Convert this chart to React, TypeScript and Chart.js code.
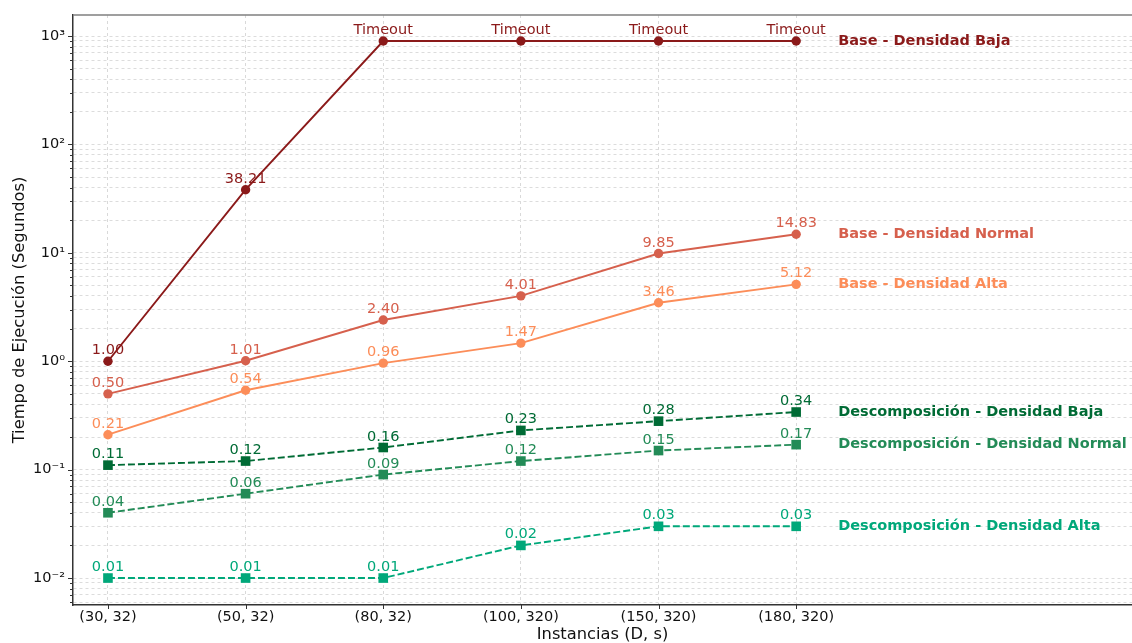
import React, { useEffect, useRef } from 'react';
import { Chart, registerables } from 'chart.js';
Chart.register(...registerables);

const categories = ['(30, 32)', '(50, 32)', '(80, 32)', '(100, 320)', '(150, 320)', '(180, 320)'];
const TIMEOUT = 900;
const baseBaja = [1.0, 38.21, TIMEOUT, TIMEOUT, TIMEOUT, TIMEOUT];
const baseNormal = [0.5, 1.01, 2.4, 4.01, 9.85, 14.83];
const baseAlta = [0.21, 0.54, 0.96, 1.47, 3.46, 5.12];
const descBaja = [0.11, 0.12, 0.16, 0.23, 0.28, 0.34];
const descNormal = [0.04, 0.06, 0.09, 0.12, 0.15, 0.17];
const descAlta = [0.01, 0.01, 0.01, 0.02, 0.03, 0.03];
const yExponents = [-2, -1, 0, 1, 2, 3];
const yTickLabels = ['10⁻²', '10⁻¹', '10⁰', '10¹', '10²', '10³'];

const seriesNames = [
  'Base - Densidad Baja',
  'Base - Densidad Normal',
  'Base - Densidad Alta',
  'Descomposición - Densidad Baja',
  'Descomposición - Densidad Normal',
  'Descomposición - Densidad Alta',
];
const seriesValues = [baseBaja, baseNormal, baseAlta, descBaja, descNormal, descAlta];
const seriesColors = ['#8b1a1a', '#d6604d', '#fc8d59', '#006b35', '#238b57', '#00a87a'];
const seriesDashed = [false, false, false, true, true, true];

const FONT = "'DejaVu Sans', sans-serif";
const Y_MIN = 0.00564;
const Y_MAX = 1563;

function fmt(v: number) {
  return v >= TIMEOUT ? 'Timeout' : v.toFixed(2);
}

const zeroPad = () => ({ left: 0, top: 0, right: 0, bottom: 0 });

const annotate = {
  id: 'annotate',
  afterDatasetsDraw(chart: any) {
    const ctx = chart.ctx;
    ctx.save();
    chart.data.datasets.forEach((ds: any, di: number) => {
      const meta = chart.getDatasetMeta(di);
      ctx.fillStyle = seriesColors[di];
      ctx.font = `14.5px ${FONT}`;
      ctx.textAlign = 'center';
      ctx.textBaseline = 'alphabetic';
      meta.data.forEach((pt: any, i: number) => {
        ctx.fillText(fmt(seriesValues[di][i]), pt.x, pt.y - 7);
      });
      const last = meta.data[meta.data.length - 1];
      ctx.font = `bold 14.5px ${FONT}`;
      ctx.textAlign = 'left';
      ctx.textBaseline = 'middle';
      ctx.fillText(seriesNames[di], last.x + 42, last.y);
    });
    ctx.restore();
  },
  afterDraw(chart: any) {
    const ctx = chart.ctx;
    const a = chart.chartArea;
    ctx.save();
    ctx.strokeStyle = '#7f7f7f';
    ctx.lineWidth = 1.5;
    ctx.beginPath();
    ctx.moveTo(a.left, a.top);
    ctx.lineTo(a.right, a.top);
    ctx.stroke();
    ctx.strokeStyle = '#333';
    ctx.lineWidth = 1;
    const ys = chart.scales.y;
    ys.ticks.forEach((t: any) => {
      const p = Math.round(ys.getPixelForValue(t.value)) + 0.5;
      const major = Math.abs(Math.log10(t.value) - Math.round(Math.log10(t.value))) < 1e-6;
      const len = major ? 5 : 3;
      ctx.beginPath();
      ctx.moveTo(a.left - len, p);
      ctx.lineTo(a.left, p);
      ctx.stroke();
    });
    const xs = chart.scales.x;
    categories.forEach((_, i) => {
      const p = Math.round(xs.getPixelForValue(i)) + 0.5;
      ctx.beginPath();
      ctx.moveTo(p, a.bottom);
      ctx.lineTo(p, a.bottom + 4);
      ctx.stroke();
    });
    ctx.restore();
  },
};

export default function App() {
  const ref = useRef<HTMLCanvasElement>(null);
  useEffect(() => {
    document.body.style.margin = '0';
    const datasets = seriesValues.map((vals, di) => ({
      label: seriesNames[di],
      data: vals.map((v, i) => ({ x: i, y: v })),
      borderColor: seriesColors[di],
      backgroundColor: seriesColors[di],
      borderWidth: 1.9,
      borderDash: seriesDashed[di] ? [7, 3] : [],
      pointStyle: seriesDashed[di] ? 'rect' : 'circle',
      pointRadius: seriesDashed[di] ? 6.8 : 4.7,
      pointBorderWidth: 0,
      fill: false,
      tension: 0,
    }));
    const chart = new Chart(ref.current!, {
      type: 'line',
      data: { datasets },
      plugins: [annotate],
      options: {
        animation: false,
        responsive: false,
        layout: { autoPadding: false, padding: { top: 15, left: 0, right: 0, bottom: 0 } },
        plugins: { legend: { display: false }, tooltip: { enabled: false } },
        scales: {
          x: {
            type: 'linear',
            min: -0.254,
            max: 7.44,
            afterBuildTicks: (s: any) => {
              s.ticks = categories.map((_, i) => ({ value: i }));
            },
            afterFit: (s: any) => {
              s.height = 38;
              s.paddingLeft = 0;
              s.paddingRight = 0;
              s.getPadding = zeroPad;
            },
            ticks: {
              callback: (v: any) => categories[v] ?? '',
              font: { family: FONT, size: 14.5 },
              color: '#111',
              padding: 4,
              maxRotation: 0,
              autoSkip: false,
            },
            grid: { color: '#d9d9d9', lineWidth: 1, drawTicks: false },
            border: { display: true, color: '#333', width: 1.5, dash: [3, 3] },
            title: {
              display: true,
              text: 'Instancias (D, s)',
              font: { family: FONT, size: 16.3, lineHeight: 1 },
              color: '#111',
              padding: { top: 0, bottom: 0 },
            },
          },
          y: {
            type: 'logarithmic',
            min: Y_MIN,
            max: Y_MAX,
            afterBuildTicks: (s: any) => {
              const t: any[] = [];
              for (let e = -3; e <= 3; e++) {
                for (let m = 1; m <= 9; m++) {
                  const v = m * Math.pow(10, e);
                  if (v >= Y_MIN && v <= Y_MAX) t.push({ value: v });
                }
              }
              s.ticks = t;
            },
            afterFit: (s: any) => {
              s.width = 73;
              s.paddingTop = 0;
              s.paddingBottom = 0;
              s.getPadding = zeroPad;
            },
            ticks: {
              callback: (v: any) => {
                const e = Math.log10(v);
                const idx = yExponents.findIndex((x) => Math.abs(x - e) < 1e-6);
                return idx >= 0 ? yTickLabels[idx] : '';
              },
              font: { family: FONT, size: 14.5 },
              color: '#111',
              padding: 8,
              autoSkip: false,
            },
            grid: { color: '#dcdcdc', lineWidth: 1, drawTicks: false },
            border: { display: true, color: '#333', width: 1.5, dash: [3, 3] },
            title: {
              display: true,
              text: 'Tiempo de Ejecución (Segundos)',
              font: { family: FONT, size: 16.3, lineHeight: 1.2 },
              color: '#111',
              padding: { top: 10, bottom: 0 },
            },
          },
        },
      },
    });
    return () => chart.destroy();
  }, []);
  return <canvas ref={ref} width={1132} height={643} style={{ display: 'block' }} />;
}
